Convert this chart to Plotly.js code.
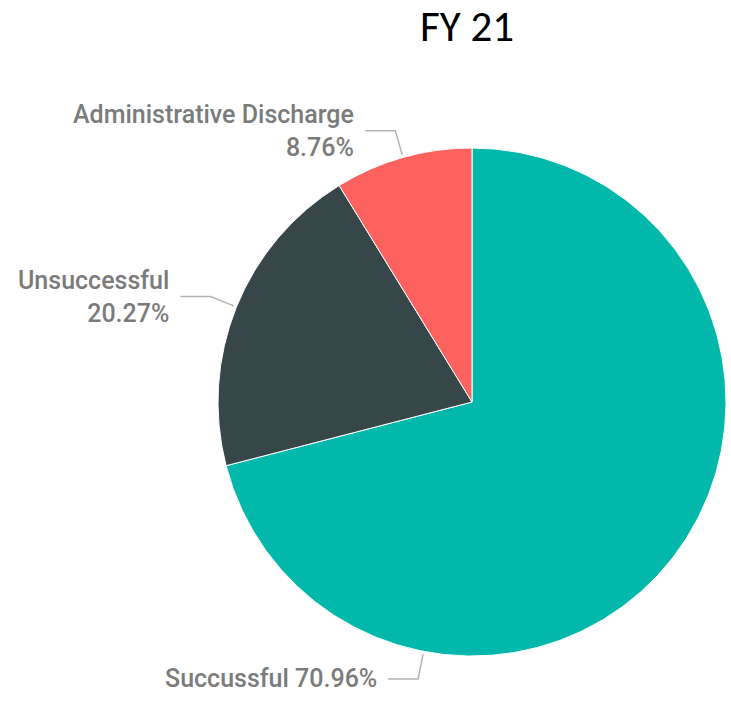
<!DOCTYPE html>
<html>
<head>
<meta charset="utf-8">
<script src="https://cdn.plot.ly/plotly-3.0.1.min.js"></script>
<style>html,body{margin:0;padding:0;background:#fff;}#chart{width:731px;height:707px;}</style>
</head>
<body>
<div id="chart"></div>
<script>
// Data
const categories = ["Succussful", "Unsuccessful", "Administrative Discharge"];
const shares = [70.96, 20.27, 8.76];
const colors = ["#01B8AA", "#374649", "#FD625E"];
const titleText = "FY 21";

// Layout config (label placement style)
const W = 731, H = 707;
const pieDomain = {x: [0.2982, 0.9932], y: [0.0707, 0.792]};
const labelAngleOverride = [191, null, null]; // degrees clockwise from 12 o'clock
const labelTwoLines = [false, true, true];

const cx = (pieDomain.x[0] + pieDomain.x[1]) / 2 * W;
const cy = H - (pieDomain.y[0] + pieDomain.y[1]) / 2 * H;
const r = Math.min((pieDomain.x[1] - pieDomain.x[0]) * W, (pieDomain.y[1] - pieDomain.y[0]) * H) / 2;

const total = shares.reduce((a, b) => a + b, 0);
const shapes = [], annotations = [];
let cum = 0;
shares.forEach((v, i) => {
  let ang = (cum + v / 2) / total * 360;
  cum += v;
  if (labelAngleOverride[i] !== null) ang = labelAngleOverride[i];
  const rad = ang * Math.PI / 180;
  const dx = Math.sin(rad), dy = -Math.cos(rad);
  const p0 = [cx + dx * (r + 3), cy + dy * (r + 3)];
  const p1 = [cx + dx * (r + 28), cy + dy * (r + 28)];
  const p2 = [p1[0] - 30, p1[1]];
  const toP = (p) => [p[0] / W, 1 - p[1] / H];
  const a = toP(p0), b = toP(p1), c = toP(p2);
  shapes.push({type: 'path', xref: 'paper', yref: 'paper',
    path: `M ${a[0]} ${a[1]} L ${b[0]} ${b[1]} L ${c[0]} ${c[1]}`,
    line: {color: '#b3b3b3', width: 1.5}});
  const pct = v.toFixed(2) + '%';
  annotations.push({xref: 'paper', yref: 'paper', x: (p2[0] - 9) / W, y: 1 - p1[1] / H,
    xanchor: 'right', yanchor: 'middle', align: 'right', showarrow: false,
    text: labelTwoLines[i] ? categories[i] + '<br>' + pct : categories[i] + ' ' + pct,
    font: {family: 'Roboto, sans-serif', size: 25, weight: 500, color: '#7b7b7b'}});
});

const trace = {
  type: 'pie', labels: categories, values: shares, sort: false,
  direction: 'clockwise', rotation: 0, textinfo: 'none', hoverinfo: 'label+percent',
  marker: {colors: colors, line: {color: '#ffffff', width: 1}},
  domain: pieDomain, showlegend: false
};

const layout = {
  width: W, height: H, margin: {l: 0, r: 0, t: 0, b: 0},
  paper_bgcolor: '#ffffff', plot_bgcolor: '#ffffff',
  title: {text: titleText, x: 467 / W, xanchor: 'center', y: 1 - 26 / H, yanchor: 'middle',
    font: {family: 'Carlito, Lato, sans-serif', size: 43, color: '#000000'}},
  shapes: shapes, annotations: annotations, showlegend: false
};

Plotly.newPlot('chart', [trace], layout, {displayModeBar: false, staticPlot: true});
</script>
</body>
</html>
